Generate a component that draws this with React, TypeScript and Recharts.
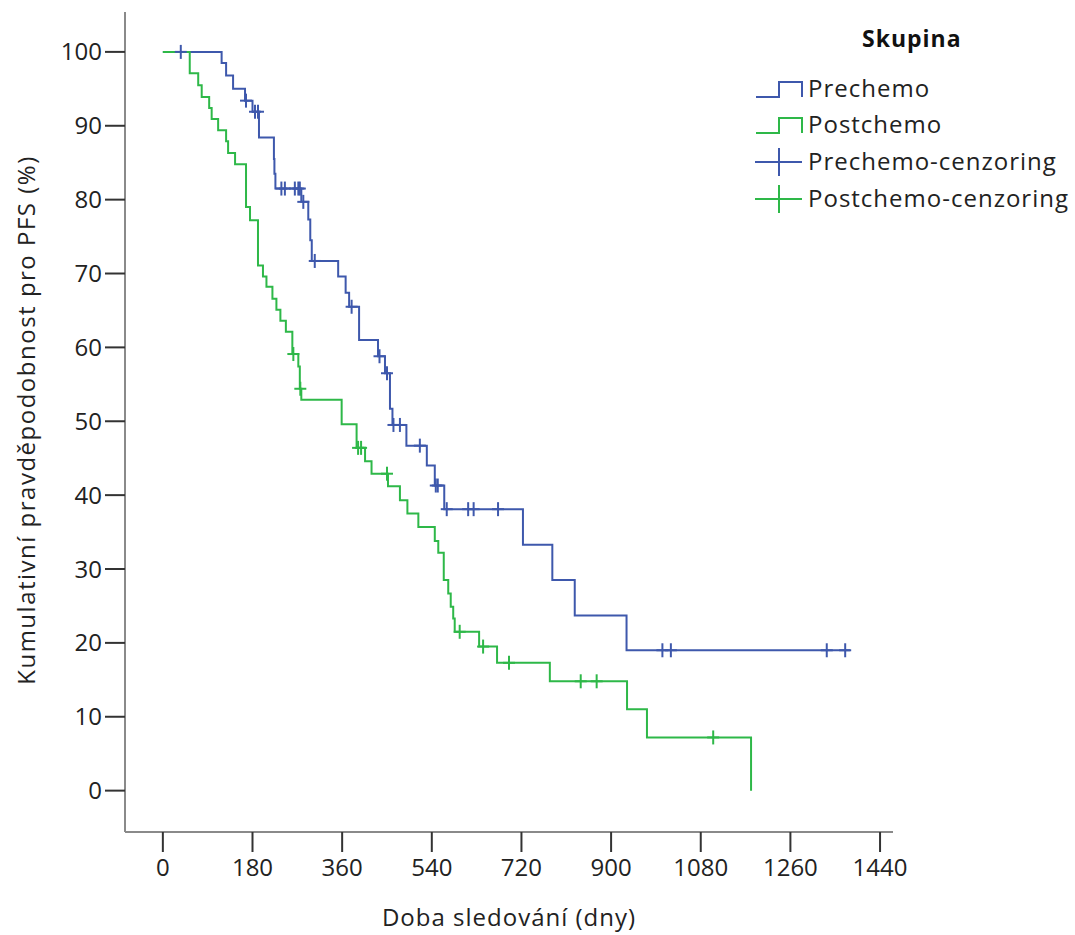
import React from 'react';
import { ComposedChart, Line, Scatter, XAxis, YAxis } from 'recharts';

const xTicks = [0, 180, 360, 540, 720, 900, 1080, 1260, 1440];
const yTicks = [0, 10, 20, 30, 40, 50, 60, 70, 80, 90, 100];

// Prechemo - step curve (day, cumulative PFS %)
const preDays = [0, 118, 127, 141, 165, 180, 193, 223, 224, 226, 278, 292, 296, 299, 352, 367, 374, 394, 432, 446, 456, 461, 489, 530, 546, 565, 723, 782, 827, 931, 1380];
const preSurv = [100, 98.5, 96.8, 95.0, 93.4, 91.9, 88.4, 85.5, 83.5, 81.5, 79.7, 77.3, 74.5, 71.7, 69.6, 67.4, 65.5, 61.0, 58.8, 56.5, 51.7, 49.5, 46.7, 44.0, 41.3, 38.1, 33.3, 28.5, 23.7, 19.0, 19.0];

// Postchemo - step curve
const postDays = [0, 54, 71, 78, 93, 98, 111, 127, 131, 145, 167, 175, 191, 201, 208, 220, 228, 236, 247, 260, 272, 275, 278, 359, 389, 406, 419, 452, 476, 491, 513, 546, 553, 564, 573, 578, 583, 586, 635, 671, 777, 932, 972, 1181];
const postSurv = [100, 97.1, 95.5, 93.9, 92.4, 90.9, 89.4, 87.9, 86.3, 84.8, 79.0, 77.2, 71.1, 69.6, 68.2, 66.6, 65.1, 63.6, 62.1, 59.1, 57.4, 54.4, 52.9, 49.6, 46.4, 44.6, 42.9, 41.2, 39.3, 37.5, 35.7, 33.8, 32.2, 28.5, 26.7, 24.9, 23.3, 21.5, 19.5, 17.3, 14.8, 11.0, 7.2, 0];

// censored observations
const preCensDays = [36, 167, 185, 191, 238, 245, 265, 272, 275, 282, 305, 379, 435, 450, 463, 476, 516, 548, 552, 570, 613, 624, 673, 1003, 1020, 1333, 1370];
const preCensSurv = [100, 93.4, 91.9, 91.9, 81.5, 81.5, 81.5, 81.5, 81.5, 79.7, 71.7, 65.5, 58.8, 56.5, 49.5, 49.5, 46.7, 41.3, 41.3, 38.1, 38.1, 38.1, 38.1, 19, 19, 19, 19];
const postCensDays = [262, 276, 392, 398, 450, 596, 643, 695, 839, 871, 1105];
const postCensSurv = [59.1, 54.4, 46.4, 46.4, 42.9, 21.5, 19.5, 17.3, 14.8, 14.8, 7.2];

const BLUE = '#3e58ac';
const GREEN = '#2eb848';

const zip = (days: number[], surv: number[]) => days.map((t, i) => ({ t, s: surv[i] }));

const preData = zip(preDays, preSurv);
const postData = zip(postDays, postSurv);
const preCens = zip(preCensDays, preCensSurv);
const postCens = zip(postCensDays, postCensSurv);

const cross = (color: string) => (props: any) => {
  const { cx, cy } = props;
  return (
    <g stroke={color} strokeWidth={2}>
      <line x1={cx} y1={cy - 7} x2={cx} y2={cy + 7} />
      <line x1={cx - 6} y1={cy} x2={cx + 6} y2={cy} />
    </g>
  );
};

const legendRows = [
  { label: 'Prechemo', color: BLUE, kind: 'step', y: 97 },
  { label: 'Postchemo', color: GREEN, kind: 'step', y: 133 },
  { label: 'Prechemo-cenzoring', color: BLUE, kind: 'cross', y: 170 },
  { label: 'Postchemo-cenzoring', color: GREEN, kind: 'cross', y: 207 },
];

export default function App() {
  return (
    <div
      style={{
        position: 'absolute',
        left: 0,
        top: 0,
        width: 1075,
        height: 935,
        background: '#fff',
        fontFamily: '"Open Sans", sans-serif',
      }}
    >
      <ComposedChart width={1075} height={935} margin={{ top: 12, right: 182, bottom: 0, left: 0 }}>
        <XAxis
          type="number"
          dataKey="t"
          domain={[-76, 1466]}
          ticks={xTicks}
          interval={0}
          allowDataOverflow
          height={103}
          tickSize={20}
          tickMargin={7}
          axisLine={{ stroke: '#8a8a8a', strokeWidth: 2 }}
          tickLine={{ stroke: '#333', strokeWidth: 2 }}
          tick={{ fill: '#222', fontSize: 24 }}
        />
        <YAxis
          type="number"
          domain={[-5.6, 105.4]}
          ticks={yTicks}
          interval={0}
          allowDataOverflow
          width={125}
          tickSize={20}
          tickMargin={3}
          axisLine={{ stroke: '#8a8a8a', strokeWidth: 2 }}
          tickLine={{ stroke: '#333', strokeWidth: 2 }}
          tick={{ fill: '#222', fontSize: 24 }}
        />
        <Line data={preData} dataKey="s" type="stepAfter" stroke={BLUE} strokeWidth={2} dot={false} isAnimationActive={false} />
        <Line data={postData} dataKey="s" type="stepAfter" stroke={GREEN} strokeWidth={2} dot={false} isAnimationActive={false} />
        <Scatter data={preCens} dataKey="s" shape={cross(BLUE)} isAnimationActive={false} />
        <Scatter data={postCens} dataKey="s" shape={cross(GREEN)} isAnimationActive={false} />
      </ComposedChart>

      <svg
        width={1075}
        height={935}
        style={{ position: 'absolute', left: 0, top: 0, pointerEvents: 'none' }}
      >
        <text
          transform="translate(25,420) rotate(-90)"
          textAnchor="middle"
          dominantBaseline="central"
          fontSize={24}
          letterSpacing={1.5}
          fill="#222"
        >
          Kumulativní pravděpodobnost pro PFS (%)
        </text>
        <text x={509} y={926} textAnchor="middle" fontSize={24} letterSpacing={1} fill="#222">
          Doba sledování (dny)
        </text>

        <text x={862} y={47} fontSize={23} fontWeight="bold" letterSpacing={1} fill="#111">
          Skupina
        </text>
        {legendRows.map((r) => (
          <g key={r.label}>
            {r.kind === 'step' ? (
              <path
                d={`M756,${r.y} H779 V${r.y - 15} H802 V${r.y}`}
                fill="none"
                stroke={r.color}
                strokeWidth={2}
              />
            ) : (
              <g stroke={r.color} strokeWidth={2}>
                <line x1={755} y1={r.y - 8} x2={802} y2={r.y - 8} />
                <line x1={779} y1={r.y - 22} x2={779} y2={r.y + 6} />
              </g>
            )}
            <text x={808} y={r.y} fontSize={24} letterSpacing={1} fill="#222">
              {r.label}
            </text>
          </g>
        ))}
      </svg>
    </div>
  );
}
